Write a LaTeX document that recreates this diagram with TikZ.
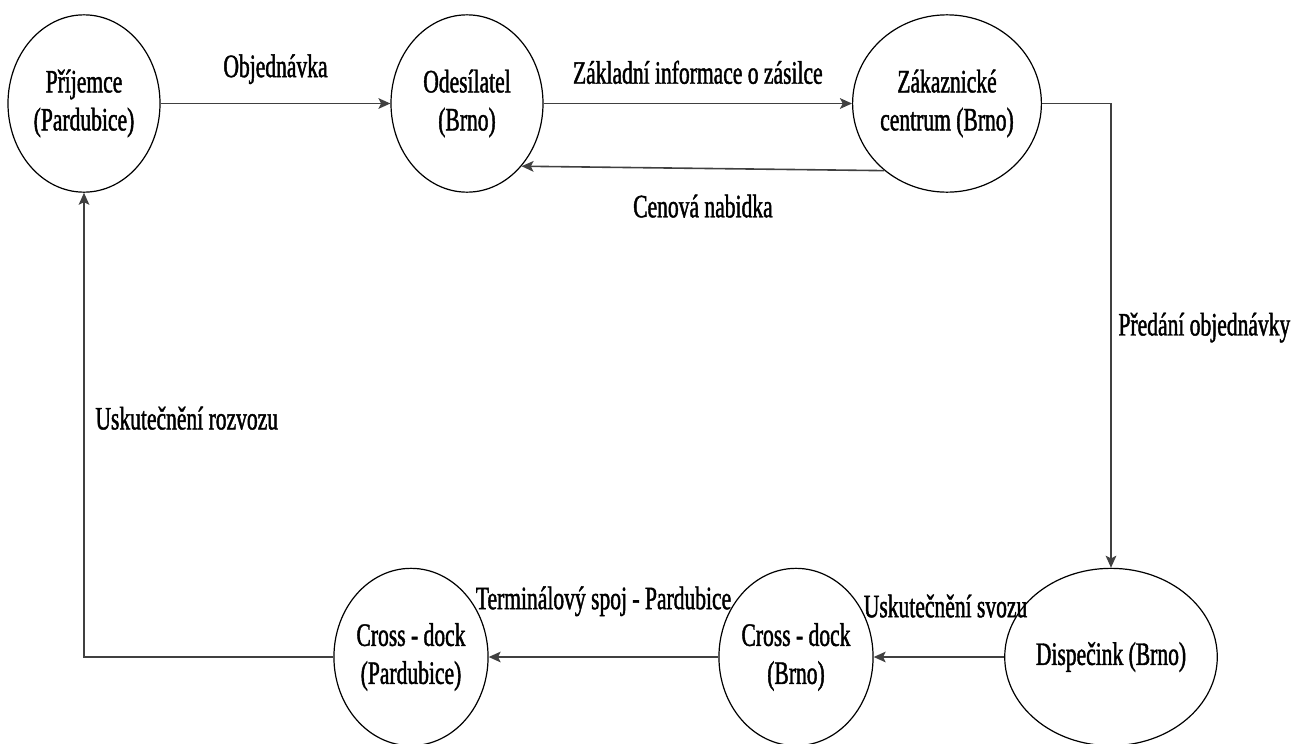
\documentclass[tikz,border=0pt]{standalone}
\usepackage{fontspec}
\setmainfont{Liberation Serif}[FakeStretch=0.66,FakeBold=1.3]
\usepackage{tikz}
\usetikzlibrary{arrows.meta}
\usetikzlibrary{shapes.geometric}

\tikzset{
  state/.style={ellipse, draw, line width=0.9pt, inner sep=0pt, align=center,
    minimum height=133pt, font=\fontsize{24.5}{28.5}\selectfont},
  flow/.style={line width=1.2pt, draw=black!75, -{Stealth[length=9pt,width=8pt,inset=2pt]}},
  lbl/.style={font=\fontsize{24.5}{28.5}\selectfont, inner sep=0pt}
}

\begin{document}
\begin{tikzpicture}[x=0.75pt,y=-0.75pt]
      \useasboundingbox (0,0) rectangle (1296,743);

      \node[state, minimum width=114pt] (prijemce) at (84,103.5) {Příjemce\\(Pardubice)};
      \node[state, minimum width=114pt] (odesilatel) at (467,103.5) {Odesílatel\\(Brno)};
      \node[state, minimum width=123pt] (zakaznicke) at (947,103.5) {Zákaznické\\centrum (Brno)};
      \node[state, minimum width=123pt] (dispecink) at (1111,657) {Dispečink (Brno)};
      \node[state, minimum width=104pt] (crossbrno) at (796,657) {Cross - dock\\(Brno)};
      \node[state, minimum width=113pt] (crosspardubice) at (411,657) {Cross - dock\\(Pardubice)};

      \draw[flow] (prijemce) -- node[lbl, above=14pt] {Objednávka} (odesilatel);
      \draw[flow] (odesilatel) -- node[lbl, above=14pt] {Základní informace o zásilce} (zakaznicke);
      \draw[flow] (zakaznicke.227) -- node[lbl, below=19pt] {Cenová nabidka} (odesilatel.-49);
      \draw[flow] (zakaznicke.east) -| node[lbl, pos=0.75, right=5pt, yshift=6pt] {Předání objednávky} (dispecink.north);
      \draw[flow] (dispecink) -- node[lbl, above=29pt, xshift=5pt] {Uskutečnění svozu} (crossbrno);
      \draw[flow] (crossbrno) -- node[lbl, above=30pt] {Terminálový spoj - Pardubice} (crosspardubice);
      \draw[flow] (crosspardubice.west) -| node[lbl, pos=0.75, right=8pt, yshift=5pt] {Uskutečnění rozvozu} (prijemce.south);
\end{tikzpicture}
\end{document}
